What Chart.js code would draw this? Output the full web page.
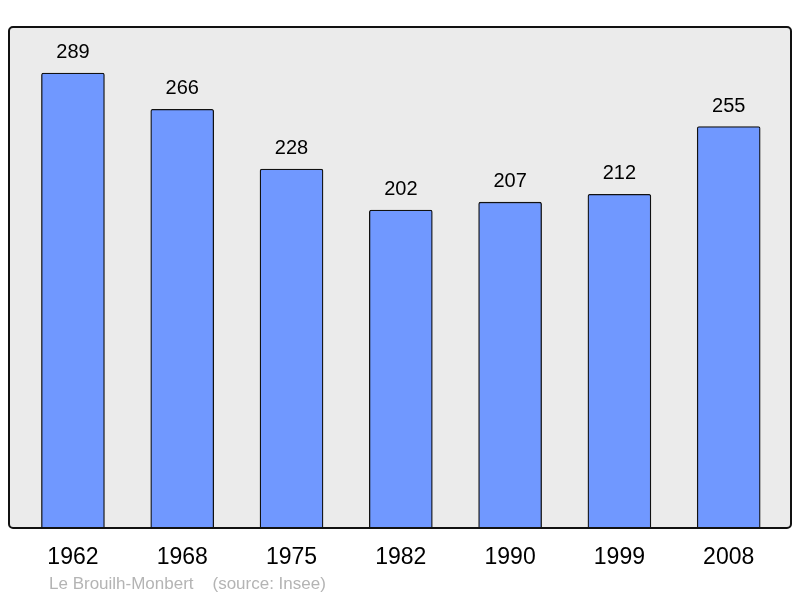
<!DOCTYPE html>
<html>
<head>
<meta charset="utf-8">
<script src="https://cdn.jsdelivr.net/npm/chart.js@4"></script>
<style>
  html, body { margin: 0; padding: 0; background: #fff; }
  #wrap { width: 800px; height: 598px; position: relative; }
</style>
</head>
<body>
<div id="wrap"><canvas id="pop"></canvas></div>
<script>
/* data */
const years = ['1962', '1968', '1975', '1982', '1990', '1999', '2008'];
const population = [289, 266, 228, 202, 207, 212, 255];
const footer = 'Le Brouilh-Monbert    (source: Insee)';

const FONT = '"Liberation Sans", Arial, sans-serif';

/* grey frame behind the bars, outline on top */
const framePlugin = {
  id: 'frame',
  beforeDatasetsDraw(chart) {
    const { ctx, chartArea: a } = chart;
    ctx.save();
    ctx.beginPath();
    ctx.roundRect(a.left, a.top, a.right - a.left, a.bottom - a.top, 4);
    ctx.fillStyle = '#ebebeb';
    ctx.fill();
    ctx.restore();
  },
  afterDatasetsDraw(chart) {
    const { ctx, chartArea: a } = chart;
    ctx.save();
    ctx.beginPath();
    ctx.roundRect(a.left, a.top, a.right - a.left, a.bottom - a.top, 4);
    ctx.lineWidth = 2;
    ctx.strokeStyle = '#111';
    ctx.stroke();
    ctx.restore();
  }
};

/* value labels above bars, year labels below, footer */
const labelPlugin = {
  id: 'labels',
  afterDraw(chart) {
    const { ctx, chartArea: a } = chart;
    const xs = chart.scales.x, ys = chart.scales.y;
    ctx.save();
    ctx.fillStyle = '#000';
    ctx.textAlign = 'center';
    ctx.textBaseline = 'alphabetic';
    ctx.font = '20px ' + FONT;
    population.forEach((v, i) => {
      ctx.fillText(String(v), xs.getPixelForValue(i), ys.getPixelForValue(v) - 15);
    });
    ctx.font = '23px ' + FONT;
    years.forEach((y, i) => {
      ctx.fillText(y, xs.getPixelForValue(i), a.bottom + 36);
    });
    ctx.textAlign = 'left';
    ctx.fillStyle = '#b4b4b4';
    ctx.font = '17px ' + FONT;
    ctx.fillText(footer, 49, a.bottom + 61);
    ctx.restore();
  }
};

new Chart(document.getElementById('pop'), {
  type: 'bar',
  data: {
    datasets: [{
      data: population.map((v, i) => ({ x: i, y: v })),
      backgroundColor: '#7098ff',
      borderColor: '#111',
      borderWidth: 1.3,
      borderSkipped: 'bottom',
      borderRadius: 2,
      barThickness: 63
    }]
  },
  options: {
    responsive: true,
    maintainAspectRatio: false,
    animation: false,
    layout: { padding: { left: 9, right: 9, top: 27, bottom: 70 } },
    plugins: { legend: { display: false }, tooltip: { enabled: false } },
    scales: {
      x: { type: 'linear', display: false, offset: false, min: -0.585, max: 6.57 },
      y: { display: false, min: 0, max: 318.3 }
    }
  },
  plugins: [framePlugin, labelPlugin]
});
</script>
</body>
</html>
